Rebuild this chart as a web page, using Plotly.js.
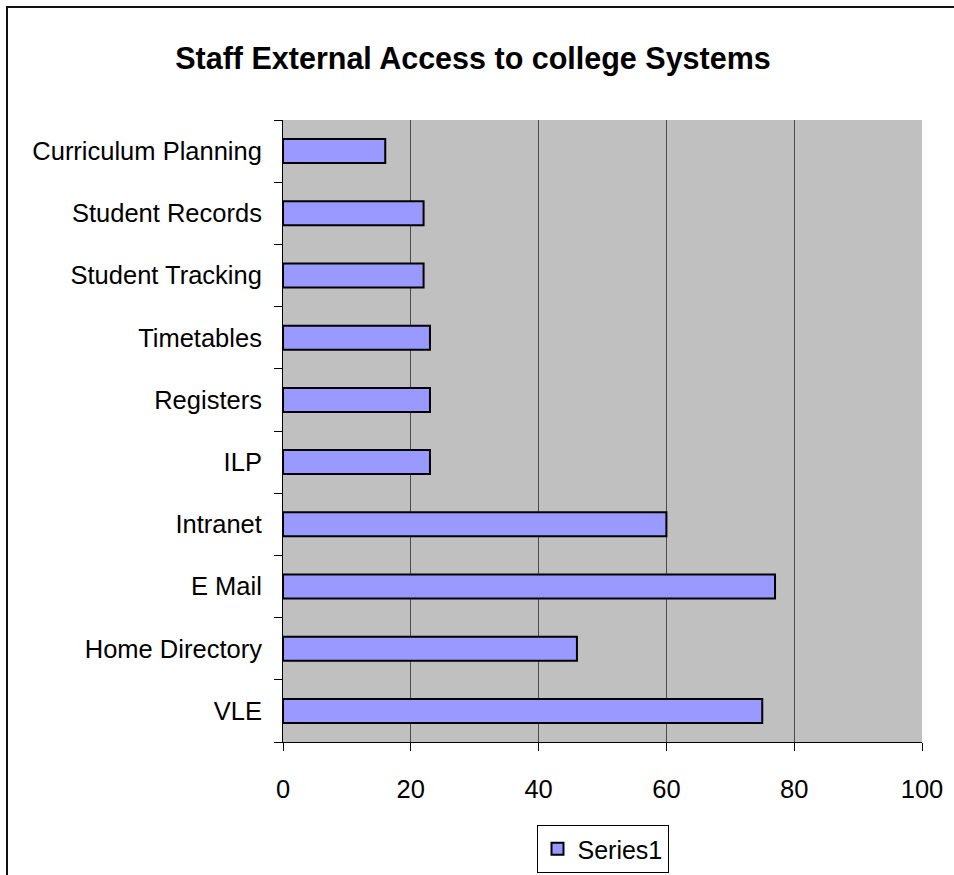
<!DOCTYPE html>
<html>
<head>
<meta charset="utf-8">
<script src="https://cdn.plot.ly/plotly-3.0.1.min.js"></script>
<style>
  html, body { margin: 0; padding: 0; background: #fff; overflow: hidden; }
  #chart { width: 954px; height: 900px; }
</style>
</head>
<body>
<div id="chart"></div>
<script>
// Categories listed bottom to top
const categories = ["VLE", "Home Directory", "E Mail", "Intranet", "ILP", "Registers",
                    "Timetables", "Student Tracking", "Student Records", "Curriculum Planning"];
const series1 = [75, 46, 77, 60, 23, 23, 23, 22, 22, 16];
const xTicks = [0, 20, 40, 60, 80, 100];
const seriesName = "Series1";
const chartTitle = "Staff External Access to college Systems";

const W = 954, H = 900;
const L = 283, R = 32, T = 120, B = H - 742;
const pw = W - L - R, ph = H - T - B;
const px = v => (v - L) / pw;
const py = v => (H - B - v) / ph;

const font = "Liberation Sans, Arial, sans-serif";

const data = [{
  type: "bar",
  orientation: "h",
  y: categories,
  x: series1,
  name: seriesName,
  marker: { color: "#9999FF", line: { color: "#000000", width: 2 } },
  showlegend: true
}];

const layout = {
  width: W, height: H,
  margin: { l: L, r: R, t: T, b: B, pad: 0 },
  paper_bgcolor: "#ffffff",
  plot_bgcolor: "#C0C0C0",
  bargap: 0.614,
  title: {
    text: "<b>" + chartTitle + "</b>",
    font: { family: font, size: 30.5, color: "#000" },
    xref: "container", yref: "container",
    x: 473 / W, xanchor: "center",
    y: 1 - 58 / H, yanchor: "middle"
  },
  xaxis: {
    range: [0, 100],
    tickvals: xTicks,
    ticktext: xTicks.map(String),
    showgrid: true, gridcolor: "#4a4a4a", gridwidth: 1,
    zeroline: false,
    showline: true, linecolor: "#000", linewidth: 1,
    ticks: "outside", ticklen: 8, tickcolor: "#000", tickwidth: 1,
    ticklabelstandoff: 16,
    tickfont: { family: font, size: 25.5, color: "#000" },
    fixedrange: true
  },
  yaxis: {
    type: "category",
    categoryorder: "array", categoryarray: categories,
    showgrid: false, zeroline: false,
    showline: true, linecolor: "#000", linewidth: 1,
    ticks: "outside", ticklen: 8, tickcolor: "#000", tickwidth: 1,
    tickson: "boundaries",
    ticklabelstandoff: 15,
    tickfont: { family: font, size: 25.5, color: "#000" },
    fixedrange: true
  },
  legend: {
    x: 0.5, xanchor: "center",
    y: py(825), yanchor: "top",
    orientation: "h",
    bgcolor: "#ffffff", bordercolor: "#000", borderwidth: 1,
    font: { family: font, size: 25, color: "#000" }
  },
  shapes: [{
    type: "rect", xref: "paper", yref: "paper",
    x0: px(7), x1: px(975), y0: py(7), y1: py(H + 10),
    line: { color: "#111", width: 2 }, fillcolor: "rgba(0,0,0,0)", layer: "below"
  }]
};

Plotly.newPlot("chart", data, layout, { displayModeBar: false, staticPlot: true });
</script>
</body>
</html>
